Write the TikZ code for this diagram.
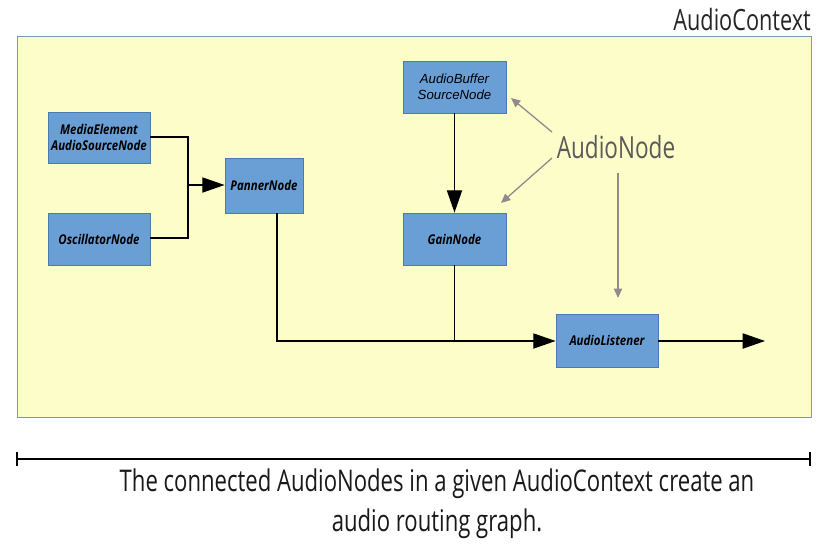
\documentclass[tikz,border=0pt]{standalone}
\usepackage{fontspec}
\setmainfont{Open Sans}
\newfontfamily\condfont[FakeStretch=0.74]{Open Sans}
\newfontfamily\nodefont[FakeStretch=0.85]{Open Sans}
\newfontfamily\lsfont{Liberation Sans}
\usetikzlibrary{arrows.meta}
\definecolor{ctxfill}{HTML}{FDFDC9}
\definecolor{ctxdraw}{HTML}{7A98B0}
\definecolor{nodefill}{HTML}{6A9FD6}
\definecolor{nodedraw}{HTML}{4A7AB4}
\definecolor{graytxt}{HTML}{5A5A5A}
\definecolor{grayline}{HTML}{8C8C8C}
\tikzset{
  anode/.style={draw=nodedraw, fill=nodefill, line width=0.8pt, inner sep=0pt, align=center,
    font=\nodefont\bfseries\itshape\fontsize{11.5}{14}\selectfont},
  blk/.style={draw=black, line width=0.9pt},
  bigtip/.style={-{Triangle[length=19pt,width=13pt]}},
  grayarrow/.style={draw=grayline, line width=1.1pt, -{Triangle[length=8pt,width=7pt]}},
}
\begin{document}
\begin{tikzpicture}[x=0.03cm,y=-0.03cm]
\useasboundingbox (0,0) rectangle (829,546);
\fill[white] (0,0) rectangle (829,546);
\draw[ctxdraw, fill=ctxfill, line width=0.8pt] (17,36) rectangle (811,417);
\node[anchor=south east, inner sep=0pt, font=\condfont\fontsize{25}{28}\selectfont, text=black!85] (ctx) at (811,31) {AudioContext};

\node[anode, minimum width=102*0.03cm, minimum height=51*0.03cm] (media) at (99,137.5) {MediaElement\\AudioSourceNode};
\node[anode, minimum width=102*0.03cm, minimum height=52*0.03cm] (osc) at (99,239) {OscillatorNode};
\node[anode, minimum width=78*0.03cm, minimum height=55*0.03cm] (pan) at (264,185.5) {PannerNode};
\node[anode, minimum width=103*0.03cm, minimum height=52*0.03cm, font=\lsfont\itshape\fontsize{11.3}{13.5}\selectfont] (buf) at (454.5,87) {AudioBuffer\\SourceNode};
\node[anode, minimum width=103*0.03cm, minimum height=52*0.03cm] (gain) at (454.5,239) {GainNode};
\node[anode, minimum width=102*0.03cm, minimum height=53*0.03cm] (lis) at (607,340.5) {AudioListener};

\coordinate (j) at (188,185);
\coordinate (out) at (765,341);
\draw[blk] (media.east |- 0,137) -| (j);
\draw[blk] (osc.east |- 0,238) -| (j);
\draw[blk, bigtip] (j) -- (pan.west |- j);
\draw[blk, bigtip] (buf.south) -- (gain.north);
\coordinate (pc) at (277,341);
\draw[blk, bigtip] (pan.south -| pc) -- (pc) -- (lis.west |- pc);
\draw[blk] (gain.south) -- (gain.south |- pc);
\draw[blk, bigtip] (lis.east |- out) -- (out);

\node[font=\condfont\fontsize{26}{30}\selectfont, text=graytxt, inner sep=0pt] (an) at (616,147) {AudioNode};
\coordinate (a1s) at (552,132);
\coordinate (a1e) at (511,98);
\coordinate (a2s) at (552,158);
\coordinate (a2e) at (501,203);
\coordinate (a3s) at (618,173);
\coordinate (a3e) at (618,298);
\draw[grayarrow] (a1s) -- (a1e);
\draw[grayarrow] (a2s) -- (a2e);
\draw[grayarrow] (a3s) -- (a3e);

\coordinate (bl) at (17,459);
\coordinate (br) at (810,459);
\draw[black, line width=0.9pt] (bl) -- (br);
\draw[black, line width=0.9pt] ([yshift=-7*0.03cm]bl) -- ([yshift=7*0.03cm]bl);
\draw[black, line width=0.9pt] ([yshift=-7*0.03cm]br) -- ([yshift=7*0.03cm]br);
\node[font=\condfont\fontsize{25.5}{34}\selectfont, align=center, inner sep=0pt, text=black!90] (cap) at (437,504) {The connected AudioNodes in a given AudioContext create an\\audio routing graph.};
\end{tikzpicture}
\end{document}
